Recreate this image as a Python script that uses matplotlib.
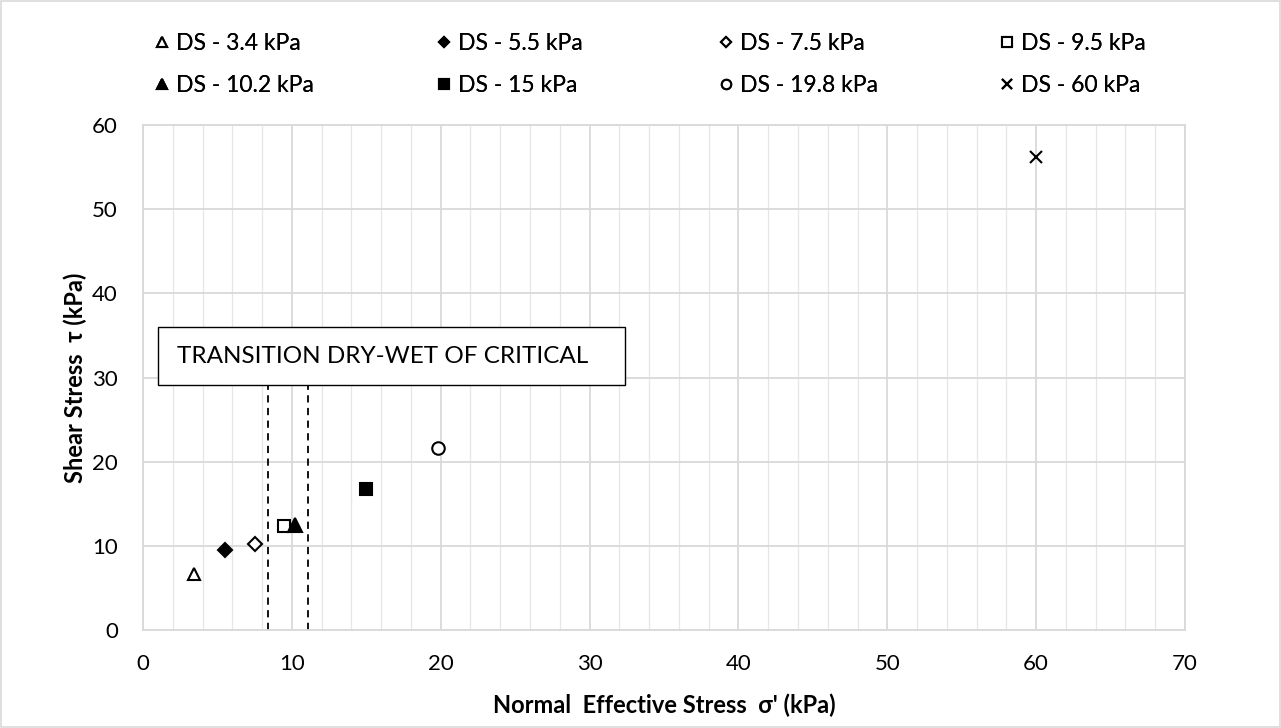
import matplotlib.pyplot as plt
from matplotlib.patches import Rectangle

plt.rcParams['font.family'] = ['Lato', 'DejaVu Sans']

# direct shear results
labels = ["DS - 3.4 kPa", "DS - 5.5 kPa", "DS - 7.5 kPa", "DS - 9.5 kPa",
          "DS - 10.2 kPa", "DS - 15 kPa", "DS - 19.8 kPa", "DS - 60 kPa"]
normal_stress = [3.4, 5.5, 7.5, 9.5, 10.2, 15, 19.8, 60]
shear_stress = [6.6, 9.5, 10.2, 12.3, 12.5, 16.7, 21.6, 56.2]
markers = ["^", "D", "D", "s", "^", "s", "o", "x"]
filled = [False, True, False, False, True, True, False, True]
sizes = [9, 7, 7, 9, 10, 9, 9, 9]

# transition lines (dry-wet of critical)
transition_x = [8.4, 11.1]
transition_top = 29.1

fig = plt.figure(figsize=(12.81, 7.28), dpi=100)
ax = fig.add_axes([143 / 1281, 1 - 630 / 728, (1185 - 143) / 1281, (630 - 125) / 728])

handles = []
for x, y, m, f, s, lab in zip(normal_stress, shear_stress, markers, filled, sizes, labels):
    if m == "x":
        h, = ax.plot(x, y, linestyle="none", marker=m, color="black", markersize=s,
                     markeredgewidth=1.5, label=lab)
    else:
        h, = ax.plot(x, y, linestyle="none", marker=m, markersize=s,
                     markerfacecolor="black" if f else "white",
                     markeredgecolor="black", markeredgewidth=1.5, label=lab, zorder=3)
    handles.append(h)

for tx in transition_x:
    ax.plot([tx, tx], [0, transition_top], color="black", linestyle=(0, (4, 3)), linewidth=1.3)

ax.add_patch(Rectangle((1.0, 29.1), 31.4, 6.9, facecolor="white", edgecolor="black",
                       linewidth=1.0, zorder=4))
ax.text(2.3, 32.55, "TRANSITION DRY-WET OF CRITICAL", fontsize=17.5, va="center",
        ha="left", zorder=5)

ax.set_xlim(0, 70)
ax.set_ylim(0, 60)
ax.set_xticks(range(0, 71, 10))
ax.set_xticks(range(0, 71, 2), minor=True)
ax.set_yticks(range(0, 61, 10))
ax.grid(True, which="major", color="#d9d9d9", linewidth=1.3)
ax.grid(True, which="minor", axis="x", color="#e6e6e6", linewidth=0.9)
ax.set_axisbelow(True)
ax.tick_params(which="both", length=0, labelsize=16)
ax.tick_params(axis="x", pad=17)
ax.tick_params(axis="y", pad=18)
for sp in ax.spines.values():
    sp.set_color("#d9d9d9")
    sp.set_linewidth(1.3)

ax.set_xlabel("Normal  Effective Stress  σ' (kPa)", fontsize=17, fontweight="bold", labelpad=14)
ax.set_ylabel("Shear Stress  τ (kPa)", fontsize=17, fontweight="bold", labelpad=4)

# legend: 4 columns of 2 rows, evenly spaced across the top
col_x = [146, 428, 710, 991]
for c, x0 in enumerate(col_x):
    idx = [c, c + 4]
    leg = fig.legend([handles[i] for i in idx], [labels[i] for i in idx],
                     loc="upper left", bbox_to_anchor=(x0 / 1281, 1 - 24 / 728),
                     frameon=False, fontsize=16.5, handlelength=0.6, borderaxespad=0,
                     handletextpad=0.3, labelspacing=0.92, markerscale=0.75)
    fig.add_artist(leg)

fig.patches.append(Rectangle((0.001, 0.001), 0.998, 0.998, transform=fig.transFigure,
                             fill=False, edgecolor="#d9d9d9", linewidth=1.2))

fig.savefig("out.png", dpi=100)
